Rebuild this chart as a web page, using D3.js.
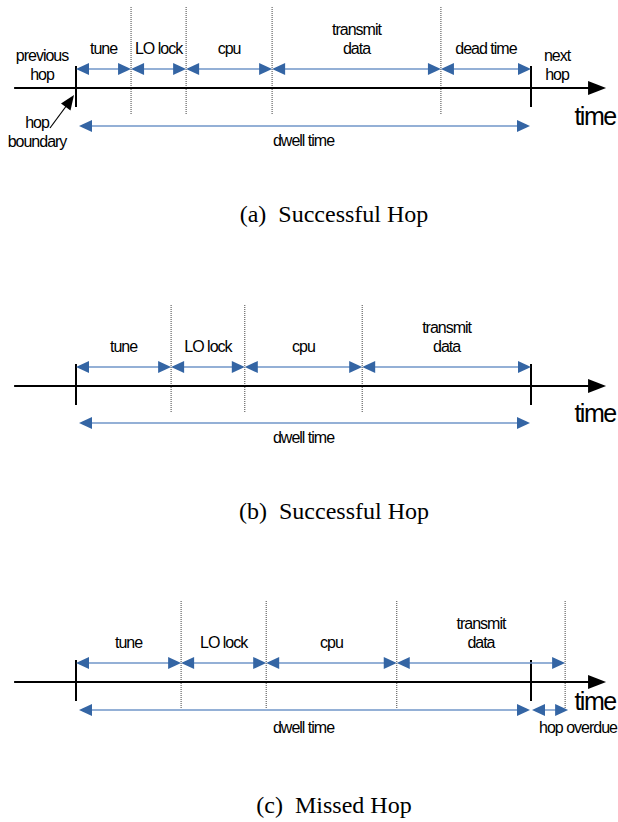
<!DOCTYPE html>
<html>
<head>
<meta charset="utf-8">
<script src="https://cdn.jsdelivr.net/npm/d3@7"></script>
<style>
  body { margin: 0; background: white; }
  text { font-family: "Liberation Sans", Arial, sans-serif; }
</style>
</head>
<body>
<div id="hops"></div>
<script>
// set the dimensions of the page
var width = 618,
    height = 822;

// time is in % of the dwell time (0 = hop boundary, 100 = next hop)
var edgesA = [0, 12.1, 24.2, 43.1, 80.2, 100];
var labelsA = ["tune", "LO lock", "cpu", "transmit|data", "dead time"];

var edgesB = [0, 20.9, 37.1, 62.9, 100];
var labelsB = ["tune", "LO lock", "cpu", "transmit|data"];

var edgesC = [0, 23.1, 41.8, 70.5, 107.5];
var labelsC = ["tune", "LO lock", "cpu", "transmit|data"];

var captions = ["(a)  Successful Hop", "(b)  Successful Hop", "(c)  Missed Hop"];

var dwell = [0, 100];
var axisExtent = [-13.6, 116.5];

var svg = d3.select("#hops")
  .append("svg")
    .attr("width", width)
    .attr("height", height);

// x scale shared by all three panels
var x = d3.scaleLinear()
  .domain([0, 100])
  .range([76, 531]);

var blue = "#3465a4",
    lightBlue = "#7096c8";

// draw a filled triangle pointing at (tx,ty) in direction dir (+1 right, -1 left)
function head(g, tx, ty, dir, len, half, color) {
  g.append("path")
    .attr("d", "M" + tx + "," + ty +
               "L" + (tx - dir * len) + "," + (ty - half) +
               "L" + (tx - dir * len) + "," + (ty + half) + "Z")
    .attr("fill", color);
}

// double headed blue dimension arrow
function dimArrow(g, x1, x2, y, lineColor) {
  g.append("line")
    .attr("x1", x1 + 6).attr("x2", x2 - 6)
    .attr("y1", y).attr("y2", y)
    .attr("stroke", lineColor || lightBlue)
    .attr("stroke-width", 1.4);
  head(g, x1, y, -1, 13, 6, blue);
  head(g, x2, y, 1, 13, 6, blue);
}

function label(g, txt, cx, baseline) {
  var lines = txt.split("|");
  lines.forEach(function(l, i) {
    g.append("text")
      .attr("x", cx)
      .attr("y", baseline - (lines.length - 1 - i) * 19)
      .attr("text-anchor", "middle")
      .style("font-size", "16px")
      .style("letter-spacing", "-1px")
      .text(l);
  });
}

function panel(axisY, edges, labels, opts) {
  var g = svg.append("g");

  // dotted separators between phases
  g.selectAll(".sep")
    .data(edges.slice(1).filter(function(d) { return d != 100; }))
    .enter()
    .append("line")
      .attr("x1", function(d) { return x(d); })
      .attr("x2", function(d) { return x(d); })
      .attr("y1", axisY - 81)
      .attr("y2", axisY + 27)
      .attr("stroke", "#444")
      .attr("stroke-width", 1)
      .attr("stroke-dasharray", "1,1");

  // time axis
  g.append("line")
    .attr("x1", x(axisExtent[0])).attr("x2", x(axisExtent[1]) - 14)
    .attr("y1", axisY).attr("y2", axisY)
    .attr("stroke", "black")
    .attr("stroke-width", 2);
  head(g, x(axisExtent[1]), axisY, 1, 18, 7, "black");

  g.append("text")
    .attr("x", 595)
    .attr("y", axisY + opts.timeDy)
    .attr("text-anchor", "middle")
    .style("font-size", "25px")
    .style("letter-spacing", "-1.5px")
    .text("time");

  // hop boundaries
  g.selectAll(".hop")
    .data(dwell)
    .enter()
    .append("line")
      .attr("x1", function(d) { return x(d); })
      .attr("x2", function(d) { return x(d); })
      .attr("y1", axisY - 22)
      .attr("y2", axisY + 19)
      .attr("stroke", "black")
      .attr("stroke-width", 2);

  // phase arrows + labels
  labels.forEach(function(l, i) {
    var x1 = x(edges[i]), x2 = x(edges[i + 1]);
    dimArrow(g, x1, x2, axisY - 19);
    label(g, l, (x1 + x2) / 2, axisY - 34);
  });

  // dwell time
  dimArrow(g, x(dwell[0]) + 3, x(dwell[1]) - 1, axisY + opts.dwellDy);
  label(g, "dwell time", (x(dwell[0]) + x(dwell[1])) / 2, axisY + opts.dwellDy + opts.dwellTextDy);

  svg.append("text")
    .attr("x", 334)
    .attr("y", axisY + opts.capDy)
    .attr("text-anchor", "middle")
    .attr("xml:space", "preserve")
    .style("font-family", "'Liberation Serif', 'Times New Roman', serif")
    .style("font-size", "24px")
    .text(opts.caption);

  return g;
}

var gA = panel(88, edgesA, labelsA, {timeDy: 37, dwellDy: 38, dwellTextDy: 20, capDy: 134, caption: captions[0]});
var gB = panel(386, edgesB, labelsB, {timeDy: 36, dwellDy: 37, dwellTextDy: 20, capDy: 133, caption: captions[1]});
var gC = panel(682, edgesC, labelsC, {timeDy: 28, dwellDy: 28, dwellTextDy: 23, capDy: 131, caption: captions[2]});

// extra labels on panel a
label(gA, "previous|hop", 42, 80);
label(gA, "next|hop", 557, 80);
label(gA, "hop|boundary", 37, 147);

// hop boundary pointer
gA.append("line")
  .attr("x1", 50).attr("y1", 128)
  .attr("x2", 67).attr("y2", 105)
  .attr("stroke", "black")
  .attr("stroke-width", 1.2);
gA.append("path")
  .attr("d", "M74,95 L70.5,110.5 L61,103.5 Z")
  .attr("fill", "black");

// hop overdue on panel c
dimArrow(gC, x(100) + 1, x(edgesC[edgesC.length - 1]) + 3, 682 + 28);
gC.append("text")
  .attr("x", 578)
  .attr("y", 733)
  .attr("text-anchor", "middle")
  .style("font-size", "16px")
  .style("letter-spacing", "-1px")
  .text("hop overdue");
</script>
</body>
</html>
